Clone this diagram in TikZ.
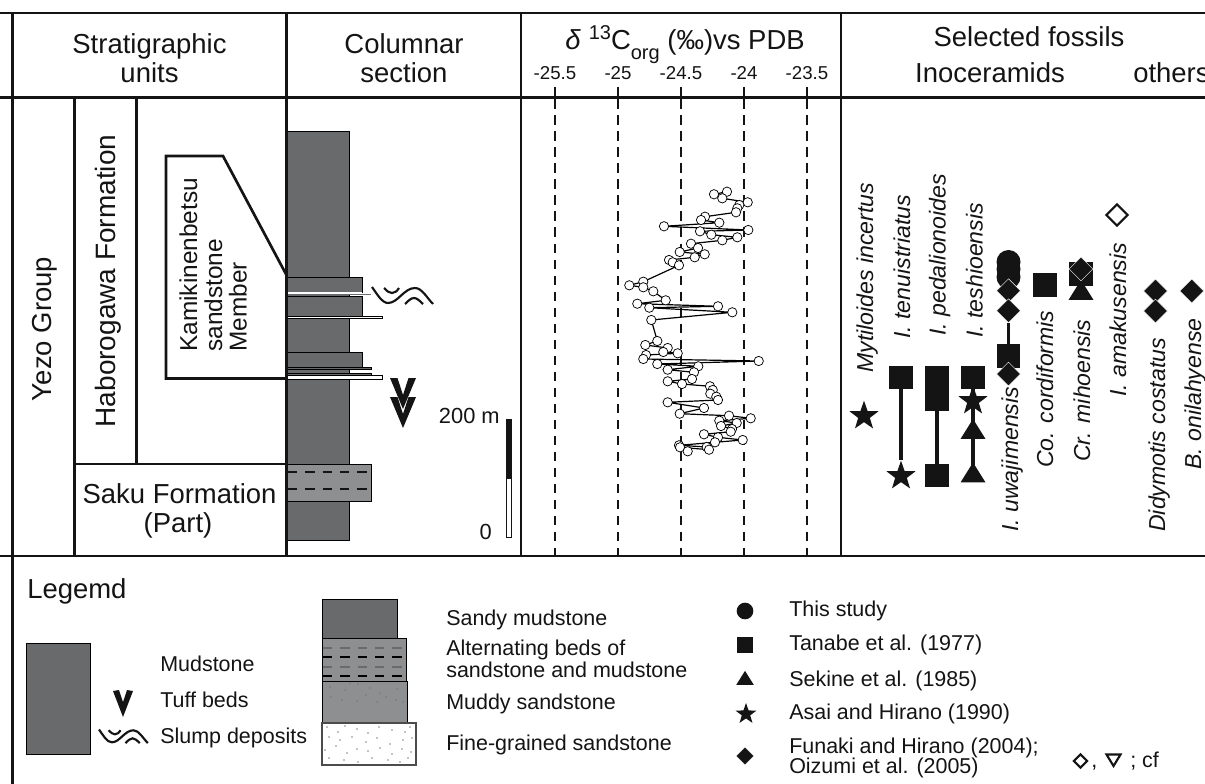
\documentclass[tikz,border=0pt]{standalone}
\usepackage{fontspec}
\setmainfont{Liberation Sans}
\usetikzlibrary{shapes.geometric,calc}
\definecolor{ink}{HTML}{141414}
\definecolor{mud}{HTML}{696A6C}
\definecolor{sandy}{HTML}{8E8F91}
\tikzset{
 frame/.style={draw=ink,line width=2.1pt},
 head/.style={font=\fontsize{20.6}{21}\selectfont,text=ink,inner sep=0},
 body/.style={font=\fontsize{16.1}{17}\selectfont,text=ink,inner sep=0},
 tick/.style={font=\fontsize{14}{15}\selectfont,text=ink,inner sep=0},
 fossil/.style={font=\itshape\fontsize{17.3}{18}\selectfont,text=ink,rotate=90,anchor=base west,inner sep=0},
 bed/.style={draw=black,line width=.6pt,fill=mud},
 msq/.style={fill=ink,draw=none,inner sep=0,minimum size=17.6pt,rectangle},
 mdia/.style={fill=ink,draw=white,line width=.3pt,diamond,inner sep=0,minimum width=18pt,minimum height=18pt},
 mcirc/.style={fill=ink,draw=none,circle,inner sep=0,minimum size=18pt},
 mtri/.style={fill=ink,draw=none,isosceles triangle,isosceles triangle apex angle=64,shape border rotate=90,inner sep=0,minimum height=15pt,minimum width=18pt},
 mstar/.style={fill=ink,draw=none,star,star points=5,star point ratio=2.5,inner sep=0,minimum size=23pt},
 circ/.style={circle,draw=black,fill=white,line width=.55pt,inner sep=0,minimum size=7pt},
 bar/.style={draw=ink,line width=2.5pt},
}
\newcommand{\slumpmark}[3]{\begin{scope}[shift={(#1,#2)},xscale=#3,yscale=#3,draw=ink,line width=1.6pt]
 \draw (0,0) .. controls (5,7) and (10,16) .. (16,16) .. controls (26,16) and (32,1) .. (43,1) .. controls (50,1) and (55,11) .. (61,17);
 \draw (12,1) .. controls (15,4) and (17,6) .. (20,6) .. controls (23,6) and (25,4) .. (27,1);
 \draw (33,17) .. controls (36,14) and (39,11) .. (42,11) .. controls (45,11) and (48,14) .. (51,17);
\end{scope}}
\newcommand{\tuffmark}[2]{\fill[ink,shift={(#1,#2)}] (-13,0) -- (-5.5,0) -- (0,17) -- (5.5,0) -- (13,0) -- (0,31) -- cycle;}
\begin{document}
\begin{tikzpicture}[x=0.75pt,y=-0.75pt]
\useasboundingbox (0,0) rectangle (1205,784);
\fill[white] (0,0) rectangle (1205,784);
% frame
\draw[frame] (0,13) -- (1205,13);
\draw[frame] (0,97.5) -- (1205,97.5);
\draw[frame] (0,556) -- (1205,556);
\draw[frame] (12.5,13) -- (12.5,784);
\draw[frame] (521,13) -- (521,556);
\draw[frame] (841,13) -- (841,556);
\draw[frame] (74.5,97.5) -- (74.5,556);
\draw[frame] (136.5,97.5) -- (136.5,464);
\draw[frame] (74.5,464) -- (287,464);
% headers
\node[head,anchor=base] (h1a) at (149.5,54) {Stratigraphic};
\node[head,anchor=base] (h1b) at (149.5,83) {units};
\node[head,anchor=base] (h2a) at (404,54) {Columnar};
\node[head,anchor=base] (h2b) at (404,83) {section};
\node[head,anchor=base west] (h3) at (565,50) {\textit{δ}\hspace{6pt}\raisebox{8pt}{\fontsize{15}{15}\selectfont 13}C\raisebox{-7.5pt}{\fontsize{15}{15}\selectfont org} (‰)vs PDB};
\node[head,anchor=base] (h4) at (1029,47) {Selected fossils};
\node[head,anchor=base] (h5) at (990,83) {Inoceramids};
\node[head,anchor=base west] (h6) at (1133,83) {others};
\foreach \x/\t in {555/-25.5,618/-25,681/-24.5,744/-24,807/-23.5}{
 \node[tick,anchor=base] at (\x,80) {\t};
 \draw[ink,line width=1.3pt] (\x,87) -- (\x,97);
 \draw[ink,line width=.9pt,dash pattern=on 7pt off 5pt] (\x,99.5) -- (\x,556);
}
% unit labels
\node[head,rotate=90,anchor=base] (u1) at (51,329) {Yezo Group};
\node[head,rotate=90,anchor=base,font=\fontsize{21}{22}\selectfont] (u2) at (115,281) {Haborogawa Formation};
\node[head,anchor=base] (u3a) at (179.5,503) {Saku Formation};
\node[head,anchor=base] (u3b) at (178,532) {(Part)};
\draw[ink,line width=2pt,fill=white] (287,276) -- (223,156) -- (166,156) -- (166,378.5) -- (287,378.5);
\node[font=\fontsize{18.3}{19}\selectfont,text=ink,rotate=90,anchor=base west,inner sep=0] (u4a) at (197,352) {Kamikinenbetsu};
\node[font=\fontsize{18.3}{19}\selectfont,text=ink,rotate=90,anchor=base west,inner sep=0] (u4b) at (222,352) {sandstone};
\node[font=\fontsize{18.3}{19}\selectfont,text=ink,rotate=90,anchor=base west,inner sep=0] (u4c) at (246.5,352) {Member};
% column
\draw[bed] (287,131) rectangle (349.5,540);
\draw[bed] (287,277) rectangle (362,292);
\fill[white] (287,292) rectangle (362,294);
\draw[mud,line width=.9pt] (287,294.7) -- (371,294.7);
\draw[bed] (287,296) rectangle (362,316.5);
\draw[black,line width=.6pt,fill=white] (287,316) rectangle (382,318.8);
\draw[bed] (287,352) rectangle (362,367.5);
\draw[black,line width=.7pt,fill=mud] (287,367.5) rectangle (371,369.5);
\draw[black,line width=.7pt,fill=mud] (287,369.5) rectangle (349.5,373.5);
\fill[white] (349.5,369.5) rectangle (371,373);
\draw[black,line width=.5pt,fill=mud] (287,373) rectangle (371,375);
\draw[black,line width=.6pt,fill=white] (287,375) rectangle (382,379);
\draw[black,line width=.6pt,fill=sandy] (287,464) rectangle (371,501);
\draw[ink,line width=.8pt,dash pattern=on 7pt off 6pt] (288,472) -- (370,472);
\draw[ink,line width=.8pt,dash pattern=on 7pt off 6pt] (288,489) -- (370,489);
\draw[frame] (286.7,13) -- (286.7,556);
\slumpmark{372}{287}{1}
\tuffmark{403}{397}
\tuffmark{403}{378}
% scale
\node[font=\fontsize{16.4}{17}\selectfont,text=ink,anchor=base east,inner sep=0] (s1) at (500,423) {200 m};
\node[font=\fontsize{16.4}{17}\selectfont,text=ink,anchor=base east,inner sep=0] (s2) at (492,539) {0};
\fill[ink] (506,419) rectangle (511.5,478);
\draw[ink,line width=.6pt,fill=white] (506.3,478) rectangle (511.2,537);
% curve
\draw[black,line width=.9pt] plot coordinates {
(714,194.3)(727,191.7)(722.3,198.3)(747.7,202.3)(739.3,205)(737.3,208.3)(736,212.3)(705,216.7)(701,220)(719.3,222.7)(664,226.3)(748.3,230)(700,231.3)(711.3,234.7)(737.3,237.3)(722.3,240.3)(691,243.7)(698,248)(679.7,252)(704.7,254.3)(694.7,257.3)(669,260)(672.7,262.3)(679,265.3)(643.3,281.7)(629.3,285.3)(643.3,287.3)(653.3,291.3)(665.7,300.3)(637.3,303.7)(718,306.3)(649.3,307.7)(732.3,312.3)(651.3,320)(657.3,341)(645.3,345)(667.7,348)(663.3,352)(677.7,353.3)(646,355)(643.3,359)(758.7,361)(657.3,364)(698.3,366.3)(667.7,369.7)(694,372.3)(692,379)(667.7,381.3)(682,384)(710,386.3)(712.7,390)(710.3,393.7)(716.3,396.7)(718,400)(667.7,402.3)(704,408)(679.7,413.7)(729,415.7)(750.7,418.3)(719.3,420.7)(736.7,423)(721,426)(732,429)(730.7,431.7)(704,434.3)(718,437.3)(742.7,440)(715,442.3)(679,445.3)(706.7,447)(709,449.7)(680,447.3)(687.7,451.3)};
\foreach \p in {(714,194.3),(727,191.7),(722.3,198.3),(747.7,202.3),(739.3,205),(737.3,208.3),(736,212.3),(705,216.7),(701,220),(719.3,222.7),(664,226.3),(748.3,230),(700,231.3),(711.3,234.7),(737.3,237.3),(722.3,240.3),(691,243.7),(698,248),(679.7,252),(704.7,254.3),(694.7,257.3),(669,260),(672.7,262.3),(679,265.3),(643.3,281.7),(629.3,285.3),(643.3,287.3),(653.3,291.3),(665.7,300.3),(637.3,303.7),(718,306.3),(649.3,307.7),(732.3,312.3),(651.3,320),(657.3,341),(645.3,345),(667.7,348),(663.3,352),(677.7,353.3),(646,355),(643.3,359),(758.7,361),(657.3,364),(698.3,366.3),(667.7,369.7),(694,372.3),(692,379),(667.7,381.3),(682,384),(710,386.3),(712.7,390),(710.3,393.7),(716.3,396.7),(718,400),(667.7,402.3),(704,408),(679.7,413.7),(729,415.7),(750.7,418.3),(719.3,420.7),(736.7,423),(721,426),(732,429),(730.7,431.7),(704,434.3),(718,437.3),(742.7,440),(715,442.3),(679,445.3),(706.7,447),(709,449.7),(680,447.3),(687.7,451.3)}
 \node[circ] at \p {};
% fossil names
\node[fossil] at (873,373) {Mytiloides incertus};
\node[fossil] at (910,339) {I. tenuistriatus};
\node[fossil] at (945.7,336) {I. pedalionoides};
\node[fossil] at (982.7,338) {I. teshioensis};
\node[fossil] at (1018,532) {I. uwajimensis};
\node[fossil] at (1053,468) {Co. cordiformis};
\node[fossil] at (1090,462) {Cr. mihoensis};
\node[fossil] at (1126,397) {I. amakusensis};
\node[fossil] at (1165,532) {Didymotis costatus};
\node[fossil] at (1201,470) {B. onilahyense};
% fossil ranges
\node[mstar] (a0) at (864,416) {};
\node[msq] (a1) at (901,377.3) {}; \node[mstar] (a2) at (901,476) {};
\draw[bar] (a1) -- (a2);
\node[msq] (b1) at (937,377.3) {}; \node[msq] (b2) at (937,399.5) {}; \node[msq] (b3) at (937,475.5) {};
\draw[bar] (b1) -- (b3);
\draw[bar] (973,378) -- (973,475);
\node[msq] (c1) at (973,377.3) {}; \node[mstar] (c2) at (973,401) {}; \node[mtri] (c3) at (973,432) {}; \node[mtri] (c4) at (973,475.5) {};
\node[mcirc] (d1) at (1008.5,262) {}; \node[mcirc] (d2) at (1008.5,269) {}; \node[mcirc] (d3) at (1008.5,277) {};
\node[mdia] (d4) at (1008.5,290.7) {}; \node[mdia] (d5) at (1008.5,310.7) {};
\node[msq] (d6) at (1008.5,356) {}; \node[mdia] (d7) at (1008.5,374) {};
\draw[bar] (d5) -- (d6);
\node[msq] (e1) at (1045,285) {};
\node[msq] (f1) at (1081,274) {}; \node[mtri] (f2) at (1081,293) {}; \node[mdia] (f3) at (1081,269) {};
\node[mdia,fill=white,draw=ink,line width=1.6pt,minimum width=16.5pt,minimum height=16.5pt] (g1) at (1117,215) {};
\node[mdia] (h7) at (1155.5,291) {}; \node[mdia] (h8) at (1155.5,311) {};
\node[mdia] (i1) at (1191.7,291) {};
% legend
\node[head,anchor=base west] (lg) at (27,598) {Legemd};
\draw[bed] (26,643) rectangle (90,754);
\node[body,anchor=base west] at (160,671) {Mudstone};
\node[body,anchor=base west] at (160,707) {Tuff beds};
\node[body,anchor=base west] at (160,743) {Slump deposits};
\fill[ink] (113,691) -- (119,690) -- (123,702) -- (127,690) -- (133,691) -- (123,717) -- cycle;
\slumpmark{99}{729.5}{.8}
\draw[bed] (322,599) rectangle (397,638);
\draw[bed,fill=sandy] (322,638) rectangle (406,681);
\foreach \y/\c in {648/mud,657/black,667/mud,676/black}
 \draw[\c,line width=.8pt,dash pattern=on 7pt off 6pt] (323,\y) -- (405,\y);
\draw[bed,fill=sandy] (322,681) rectangle (407,723);
\draw[black!70,line width=.8pt,fill=white] (322,723) rectangle (416,765);
\foreach \a/\b in {330/687,345/690,358/684,370/688,380/693,397/689,331/697,342/700,357/701,366/695,377/702,386/697,396/700,403/702,350/683}
 \fill[black] (\a,\b) circle (.45);
\foreach \a/\b in {327/727,338/732,345/726,357/729,368/733,379/727,392/730,405/732,410/727,329/737,340/740,352/737,366/742,377/738,390/744,403/740,412/738,325/750,336/746,347/753,357/749,368/751,380/748,392/754,402/749,411/752,329/758,344/760,358/762,372/758,388/760,400/762,408/758}
 \fill[black] (\a,\b) circle (.55);
\node[body,anchor=base west] at (446,625) {Sandy mudstone};
\node[body,anchor=base west] at (446,655) {Alternating beds of};
\node[body,anchor=base west] at (446,677) {sandstone and mudstone};
\node[body,anchor=base west] at (446,709) {Muddy sandstone};
\node[body,anchor=base west] at (446,750) {Fine-grained sandstone};
% legend refs
\node[mcirc,minimum size=12.5pt] at (745,611) {};
\node[msq,minimum size=12.5pt] at (745,645) {};
\node[mtri,minimum height=10.5pt,minimum width=13pt] at (745,680) {};
\node[mstar,minimum size=16.5pt] at (746,714) {};
\node[mdia,minimum width=13.5pt,minimum height=13.5pt] at (745,756) {};
\node[body,anchor=base west] at (789,616) {This study};
\node[body,anchor=base west] at (789,650) {Tanabe et al. (1977)};
\node[body,anchor=base west] at (789,686) {Sekine et al. (1985)};
\node[body,anchor=base west] at (789,719) {Asai and Hirano (1990)};
\node[body,anchor=base west] at (789,753) {Funaki and Hirano (2004);};
\node[body,anchor=base west] at (789,773) {Oizumi et al. (2005)};
\node[diamond,draw=ink,line width=1.6pt,inner sep=0,minimum width=10.5pt,minimum height=10.5pt] (cf1) at (1080.5,761) {};
\node[body,anchor=base west] at (1091,767) {,};
\draw[ink,line width=1.6pt] (1106.5,754.5) -- (1120.5,754.5) -- (1113.5,766) -- cycle;
\node[body,anchor=base west] at (1130,767) {; cf};
\end{tikzpicture}
\end{document}
